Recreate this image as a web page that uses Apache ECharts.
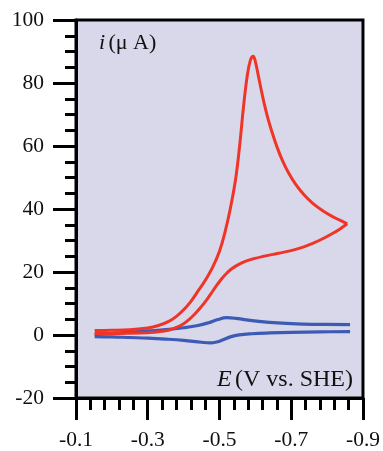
<!DOCTYPE html>
<html><head><meta charset="utf-8">
<script src="https://cdn.jsdelivr.net/npm/echarts@6/dist/echarts.min.js"></script>
<style>html,body{margin:0;padding:0;background:#fff}#c{width:383px;height:451px}</style>
</head><body><div id="c"></div>
<script>
// Axis ranges / ticks
const xMin = -0.9, xMax = -0.1, xStep = 0.2;
const yMin = -20, yMax = 100, yStep = 20;

// Red CV: forward (cathodic) sweep
const redFwdE = [-0.152,-0.20,-0.25,-0.30,-0.33,-0.36,-0.38,-0.40,-0.42,-0.44,-0.46,-0.48,-0.50,-0.515,-0.53,-0.545,-0.557,-0.567,-0.577,-0.586,-0.594,-0.600,-0.608,-0.616,-0.625,-0.635,-0.647,-0.660,-0.675,-0.692,-0.712,-0.735,-0.760,-0.790,-0.820,-0.840,-0.856];
const redFwdI = [1.4,1.5,1.7,2.2,3.0,4.4,5.9,8.0,10.6,13.9,17.3,21.3,26.6,32.5,40.0,49.5,61.0,72.5,82.0,87.2,88.5,86.8,82.5,78.0,73.3,68.8,64.2,59.8,55.5,51.6,47.9,44.6,41.8,39.3,37.3,36.2,35.3];
// Red CV: return sweep
const redRevE = [-0.856,-0.835,-0.810,-0.785,-0.760,-0.735,-0.710,-0.680,-0.650,-0.620,-0.595,-0.570,-0.550,-0.535,-0.520,-0.505,-0.490,-0.475,-0.460,-0.445,-0.430,-0.415,-0.400,-0.380,-0.360,-0.330,-0.300,-0.250,-0.200,-0.152];
const redRevI = [35.3,33.6,31.9,30.4,29.1,28.0,27.1,26.3,25.6,24.9,24.2,23.3,22.2,21.1,19.6,17.7,15.4,12.9,10.5,8.4,6.5,4.9,3.6,2.4,1.6,1.0,0.75,0.55,0.45,0.45];

// Blue CV: forward sweep
const blueFwdE = [-0.152,-0.20,-0.25,-0.30,-0.35,-0.40,-0.44,-0.47,-0.495,-0.520,-0.545,-0.575,-0.610,-0.650,-0.700,-0.760,-0.864];
const blueFwdI = [0.2,0.5,0.9,1.3,1.7,2.3,3.0,3.9,4.9,5.5,5.3,4.8,4.3,3.9,3.6,3.4,3.3];
// Blue CV: return sweep
const blueRevE = [-0.864,-0.780,-0.700,-0.640,-0.590,-0.555,-0.530,-0.510,-0.492,-0.474,-0.450,-0.400,-0.350,-0.300,-0.250,-0.200,-0.152];
const blueRevI = [1.1,1.0,0.85,0.65,0.4,0.05,-0.6,-1.5,-2.2,-2.5,-2.3,-1.7,-1.3,-1.0,-0.8,-0.6,-0.5];

const zip = (a, b) => a.map((v, k) => [v, b[k]]);
const RED = '#ee3527', BLUE = '#3b5bb4';
const FONT = '"Liberation Serif","Times New Roman",serif';

function line(E, I, color, w) {
  return { type: 'line', data: zip(E, I), showSymbol: false, smooth: 0.4,
    lineStyle: { color: color, width: w }, itemStyle: { color: color }, z: 3, animation: false };
}

const chart = echarts.init(document.getElementById('c'), null, { renderer: 'canvas' });
chart.setOption({
  animation: false,
  backgroundColor: '#ffffff',
  grid: { left: 76, right: 20, top: 20, bottom: 51, show: true,
    backgroundColor: '#d9d8ea', borderColor: '#000', borderWidth: 3 },
  xAxis: {
    type: 'value', inverse: true, min: xMin, max: xMax, interval: xStep,
    axisLine: { show: true, onZero: false, lineStyle: { color: '#000', width: 3 } },
    axisTick: { show: true, length: 22, lineStyle: { color: '#000', width: 3 } },
    minorTick: { show: true, splitNumber: 5, length: 12, lineStyle: { color: '#000', width: 3 } },
    splitLine: { show: false }, minorSplitLine: { show: false },
    axisLabel: { color: '#111', fontFamily: FONT, fontSize: 21.5, margin: 31,
      formatter: v => v.toFixed(1) }
  },
  yAxis: {
    type: 'value', min: yMin, max: yMax, interval: yStep,
    axisLine: { show: true, onZero: false, lineStyle: { color: '#000', width: 3 } },
    axisTick: { show: true, length: 23, lineStyle: { color: '#000', width: 3 } },
    minorTick: { show: true, splitNumber: 4, length: 11, lineStyle: { color: '#000', width: 3 } },
    splitLine: { show: false }, minorSplitLine: { show: false },
    axisLabel: { color: '#111', fontFamily: FONT, fontSize: 21.5, margin: 32 }
  },
  graphic: [
    { type: 'text', left: 99, top: 32, z: 10,
      style: { text: '{a|i} {b|(μ A)}', fill: '#111',
        rich: { a: { fontFamily: FONT, fontSize: 22, fontStyle: 'italic', fill: '#111' },
                b: { fontFamily: FONT, fontSize: 22, fill: '#111' } } } },
    { type: 'text', right: 30, top: 368, z: 10,
      style: { text: '{a|E} {b|(V vs. SHE)}', fill: '#111',
        rich: { a: { fontFamily: FONT, fontSize: 24, fontStyle: 'italic', fill: '#111' },
                b: { fontFamily: FONT, fontSize: 24, fill: '#111' } } } }
  ],
  series: [
    line(blueFwdE, blueFwdI, BLUE, 3.2),
    line(blueRevE, blueRevI, BLUE, 3.2),
    line(redFwdE, redFwdI, RED, 3),
    line(redRevE, redRevI, RED, 3)
  ]
});
</script>
</body></html>
